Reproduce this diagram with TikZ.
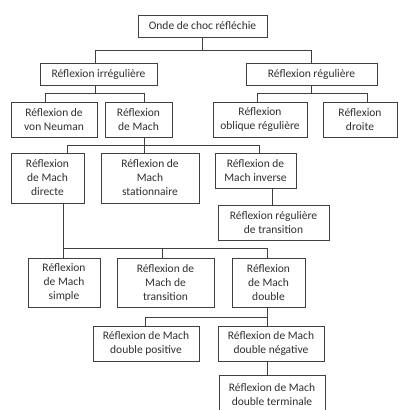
\documentclass[tikz,border=0pt]{standalone}
\usepackage{fontspec}
\setmainfont{Carlito}
\definecolor{linegray}{HTML}{404040}
\definecolor{textgray}{HTML}{303030}
\begin{document}
\begin{tikzpicture}[x=1pt,y=1pt,
  box/.style={draw=linegray, line width=0.8pt, inner sep=0pt, align=center,
    text=textgray, font=\fontsize{11.5}{14}\selectfont},
  conn/.style={draw=linegray, line width=0.8pt}]
\useasboundingbox[fill=white] (0,0) rectangle (398,-410);
\node[box, minimum width=129, minimum height=22] (top) at (202.5,-26) {Onde de choc réfléchie};
\node[box, minimum width=117, minimum height=22] (irr) at (98.5,-74) {Réflexion irrégulière};
\node[box, minimum width=131, minimum height=22] (reg) at (311.5,-74) {Réflexion régulière};
\node[box, minimum width=86, minimum height=35] (vn) at (54,-119.5) {Réflexion de\\von Neuman};
\node[box, minimum width=67, minimum height=35] (mach) at (138.5,-119.5) {Réflexion\\de Mach};
\node[box, minimum width=94, minimum height=35] (obl) at (260,-119.5) {Réflexion\\oblique régulière};
\node[box, minimum width=74, minimum height=35] (dro) at (360,-119.5) {Réflexion\\droite};
\node[box, minimum width=73, minimum height=50] (dir) at (47.5,-178) {Réflexion\\de Mach\\directe};
\node[box, minimum width=98, minimum height=50] (stat) at (150,-178) {Réflexion de\\Mach\\stationnaire};
\node[box, minimum width=81, minimum height=35] (inv) at (255.5,-170.5) {Réflexion de\\Mach inverse};
\node[box, minimum width=111, minimum height=35] (rdt) at (273.5,-222.5) {Réflexion régulière\\de transition};
\node[box, minimum width=72, minimum height=49] (simple) at (64,-282.5) {Réflexion\\de Mach\\simple};
\node[box, minimum width=97, minimum height=49] (trans) at (165.5,-282.5) {Réflexion de\\Mach de\\transition};
\node[box, minimum width=73, minimum height=49] (dbl) at (268.5,-282.5) {Réflexion\\de Mach\\double};
\node[box, minimum width=106, minimum height=35] (pos) at (146,-343.5) {Réflexion de Mach\\double positive};
\node[box, minimum width=106, minimum height=35] (neg) at (271,-343.5) {Réflexion de Mach\\double négative};
\node[box, minimum width=106, minimum height=40] (term) at (272,-395) {Réflexion de Mach\\double terminale};
% connectors
\draw[conn] (top.south) -- ++(0,-13) -| ([xshift=-3.5pt]irr.north);
\draw[conn] (top.south) -- ++(0,-13) -| (reg.north);
\draw[conn] ([xshift=-3.5pt]irr.south) -- ++(0,-8) -| ([xshift=-9pt]vn.north);
\draw[conn] ([xshift=-3.5pt]irr.south) -- ++(0,-8) -| ([xshift=6pt]mach.north);
\draw[conn] (reg.south) -- ++(0,-8) -| ([xshift=-3pt]obl.north);
\draw[conn] (reg.south) -- ++(0,-8) -| ([xshift=7pt]dro.north);
\draw[conn] ([xshift=6pt]mach.south) -- ([xshift=-5.5pt]stat.north);
\draw[conn] ([xshift=6pt]mach.south) ++(0,-8) -| ([xshift=19.5pt]dir.north);
\draw[conn] ([xshift=6pt]mach.south) ++(0,-8) -| ([xshift=3.5pt]inv.north);
\draw[conn] ([xshift=16.5pt]inv.south) -- ([xshift=16.5pt]inv.south |- rdt.north);
\draw[conn] ([xshift=15.5pt]dir.south) -- ([xshift=15.5pt]dir.south |- simple.north);
\draw[conn] ([xshift=15.5pt]dir.south) ++(0,-45) -| ([xshift=-3.5pt]trans.north);
\draw[conn] ([xshift=15.5pt]dir.south) ++(0,-45) -| ([xshift=-1.5pt]dbl.north);
\draw[conn] ([xshift=-1.5pt]dbl.south) -- ++(0,-10) -| ([xshift=-1pt]pos.north);
\draw[conn] ([xshift=-1.5pt]dbl.south) -- ([xshift=-4pt]neg.north);
\draw[conn] ([xshift=-4pt]neg.south) -- ([xshift=-4pt]neg.south |- term.north);
\end{tikzpicture}
\end{document}
